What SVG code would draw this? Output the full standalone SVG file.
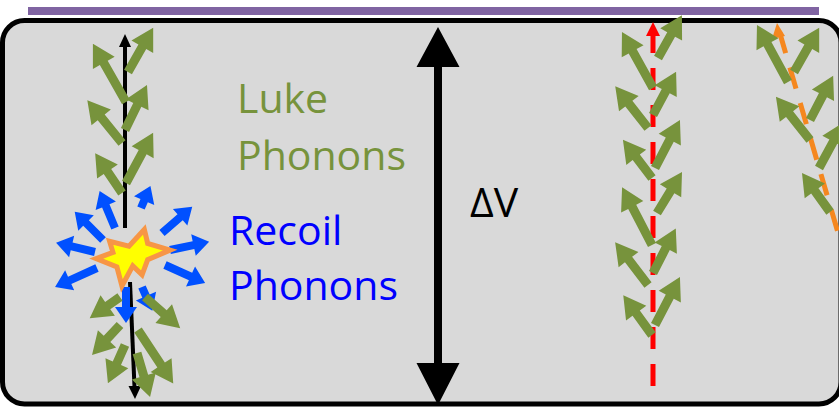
<svg xmlns="http://www.w3.org/2000/svg" width="839" height="408" viewBox="0 0 839 408">
  <style>
    .luke { fill: #77933c; }
    .recoil { fill: #0050ff; }
    .label { font-family: "Open Sans", "Liberation Sans", sans-serif; font-size: 41px; }
    .track { fill: none; stroke-width: 5; stroke-dasharray: 22 15; }
  </style>

  <!-- detector crystal -->
  <g id="crystal">
    <rect x="2.5" y="20.5" width="838.5" height="383.5" rx="22" fill="#d9d9d9" stroke="#000" stroke-width="5"/>
  </g>
  <!-- electrode -->
  <g id="electrode">
    <rect x="28" y="7" width="791" height="8" fill="#8064a2"/>
  </g>

  <!-- bias voltage -->
  <g id="bias">
    <path d="M438 27L459.5 67H442V363H459.5L438 405L416.5 363H434V67H416.5Z" fill="#000"/>
    <text class="label" x="470" y="217" fill="#000">ΔV</text>
  </g>

  <g id="labels">
    <text class="label" x="237" y="113" fill="#77933c">Luke</text>
    <text class="label" x="237" y="170" fill="#77933c">Phonons</text>
    <text class="label" x="229" y="245" fill="#0000ff">Recoil</text>
    <text class="label" x="229" y="300" fill="#0000ff">Phonons</text>
  </g>

  <g id="connectors">
    <!-- charge tracks at the interaction site -->
    <g id="charge-up">
      <path d="M125 228V46" stroke="#000" stroke-width="4"/>
      <path d="M125 34L131 47H119Z" fill="#000"/>
    </g>
    <g id="charge-down">
      <path d="M130 282L134.5 387" stroke="#000" stroke-width="4"/>
      <path d="M135 399L128.5 386H141Z" fill="#000"/>
    </g>
    <!-- drifting carrier tracks -->
    <g id="electron-track">
      <path class="track" d="M653 31V388" stroke="#ff0000"/>
      <path d="M653 22L660 36H646Z" fill="#ff0000"/>
    </g>
    <g id="hole-track">
      <path class="track" d="M779.5 32L841 243" stroke="#f5871f"/>
      <path d="M777 23L785 36L772 39Z" fill="#f5871f"/>
    </g>
  </g>

  <!-- recoil phonons around the event -->
  <g id="recoil-phonons" class="recoil">
    <path d="M0-4H24V-11L40 0L24 11V4H0Z" transform="translate(95,252) rotate(-166.7)"/>
    <path d="M0-4H30V-11L46 0L30 11V4H0Z" transform="translate(97,268) rotate(155.7)"/>
    <path d="M0-4H24V-11L40 0L24 11V4H0Z" transform="translate(103,240) rotate(-135)"/>
    <path d="M0-4H24V-11L40 0L24 11V4H0Z" transform="translate(115,228) rotate(-112.6)"/>
    <path d="M0-4H8V-11L24 0L8 11V4H0Z" transform="translate(141,208) rotate(-66.8)"/>
    <path d="M0-4H24V-11L40 0L24 11V4H0Z" transform="translate(162,233) rotate(-40.9)"/>
    <path d="M0-4H24V-11L40 0L24 11V4H0Z" transform="translate(170,250) rotate(-11.9)"/>
    <path d="M0-4H28V-11L44 0L28 11V4H0Z" transform="translate(165,265) rotate(24.2)"/>
    <path d="M0-4H20V-11L36 0L20 11V4H0Z" transform="translate(126,287) rotate(90)"/>
    <path d="M0-4H10V-11L26 0L10 11V4H0Z" transform="translate(142,287) rotate(66.5)"/>
  </g>

  <!-- interaction site -->
  <g id="event">
    <path d="M100 258.5L115 253L112 243L129.3 247.5L143 232.5L146 245L166 251L146 259.5L141 273L132.7 265L123 283L118.5 266Z" transform="translate(132,258) scale(1.12) translate(-132,-258)" fill="#ffff00" stroke="#f79646" stroke-width="4.5" stroke-linejoin="miter"/>
  </g>

  <!-- Luke phonons along the charge tracks -->
  <g id="luke-phonons-event" class="luke">
    <path d="M0-4.5H45V-12.5L67 0L45 12.5V4.5H0Z" transform="translate(126,102) rotate(-119.6)"/>
    <path d="M0-4.5H29V-12.5L51 0L29 12.5V4.5H0Z" transform="translate(128,72) rotate(-60.4)"/>
    <path d="M0-4.5H33V-12.5L55 0L33 12.5V4.5H0Z" transform="translate(122,143) rotate(-129.1)"/>
    <path d="M0-4.5H28V-12.5L50 0L28 12.5V4.5H0Z" transform="translate(125,130) rotate(-63.9)"/>
    <path d="M0-4.5H26V-12.5L48 0L26 12.5V4.5H0Z" transform="translate(122,193) rotate(-124)"/>
    <path d="M0-4.5H35V-12.5L57 0L35 12.5V4.5H0Z" transform="translate(126,183) rotate(-61.6)"/>
    <path d="M0-4.5H15V-12.5L37 0L15 12.5V4.5H0Z" transform="translate(120,297) rotate(145)"/>
    <path d="M0-4.5H19V-12.5L41 0L19 12.5V4.5H0Z" transform="translate(120,325) rotate(133)"/>
    <path d="M0-4.5H20V-12.5L42 0L20 12.5V4.5H0Z" transform="translate(125,345) rotate(114)"/>
    <path d="M0-4.5H25V-12.5L47 0L25 12.5V4.5H0Z" transform="translate(145,297) rotate(41.5)"/>
    <path d="M0-4.5H42V-12.5L64 0L42 12.5V4.5H0Z" transform="translate(138,330) rotate(56.6)"/>
    <path d="M0-4.5H24V-12.5L46 0L24 12.5V4.5H0Z" transform="translate(137,353) rotate(73.5)"/>
  </g>

  <g id="luke-phonons-electron" class="luke">
    <path d="M0-4.5H42V-12.5L64 0L42 12.5V4.5H0Z" transform="translate(653,88) rotate(-119)"/>
    <path d="M0-4.5H31V-12.5L53 0L31 12.5V4.5H0Z" transform="translate(648,128) rotate(-128.2)"/>
    <path d="M0-4.5H26V-12.5L48 0L26 12.5V4.5H0Z" transform="translate(652,178) rotate(-127.3)"/>
    <path d="M0-4.5H43V-12.5L65 0L43 12.5V4.5H0Z" transform="translate(652,245) rotate(-117.4)"/>
    <path d="M0-4.5H32V-12.5L54 0L32 12.5V4.5H0Z" transform="translate(648,285) rotate(-127.5)"/>
    <path d="M0-4.5H27V-12.5L49 0L27 12.5V4.5H0Z" transform="translate(652,335) rotate(-125.9)"/>
    <path d="M0-4.5H27V-12.5L49 0L27 12.5V4.5H0Z" transform="translate(658,58) rotate(-60.8)"/>
    <path d="M0-4.5H27V-12.5L49 0L27 12.5V4.5H0Z" transform="translate(653,115) rotate(-61.9)"/>
    <path d="M0-4.5H32V-12.5L54 0L32 12.5V4.5H0Z" transform="translate(655,168) rotate(-62.5)"/>
    <path d="M0-4.5H26V-12.5L48 0L26 12.5V4.5H0Z" transform="translate(657,213) rotate(-58.6)"/>
    <path d="M0-4.5H28V-12.5L50 0L28 12.5V4.5H0Z" transform="translate(653,273) rotate(-62.9)"/>
    <path d="M0-4.5H32V-12.5L54 0L32 12.5V4.5H0Z" transform="translate(655,325) rotate(-62.5)"/>
  </g>

  <g id="luke-phonons-hole" class="luke">
    <path d="M0-4.5H43V-12.5L65 0L43 12.5V4.5H0Z" transform="translate(788,82) rotate(-118.5)"/>
    <path d="M0-4.5H29V-12.5L51 0L29 12.5V4.5H0Z" transform="translate(794,72) rotate(-60.4)"/>
    <path d="M0-4.5H33V-12.5L55 0L33 12.5V4.5H0Z" transform="translate(810,140) rotate(-128.3)"/>
    <path d="M0-4.5H28V-12.5L50 0L28 12.5V4.5H0Z" transform="translate(810,120) rotate(-62.4)"/>
    <path d="M0-4.5H30V-12.5L52 0L30 12.5V4.5H0Z" transform="translate(819,168) rotate(-61.5)"/>
    <path d="M0-4.5H26V-12.5L48 0L26 12.5V4.5H0Z" transform="translate(830,212) rotate(-125.7)"/>
  </g>
</svg>
